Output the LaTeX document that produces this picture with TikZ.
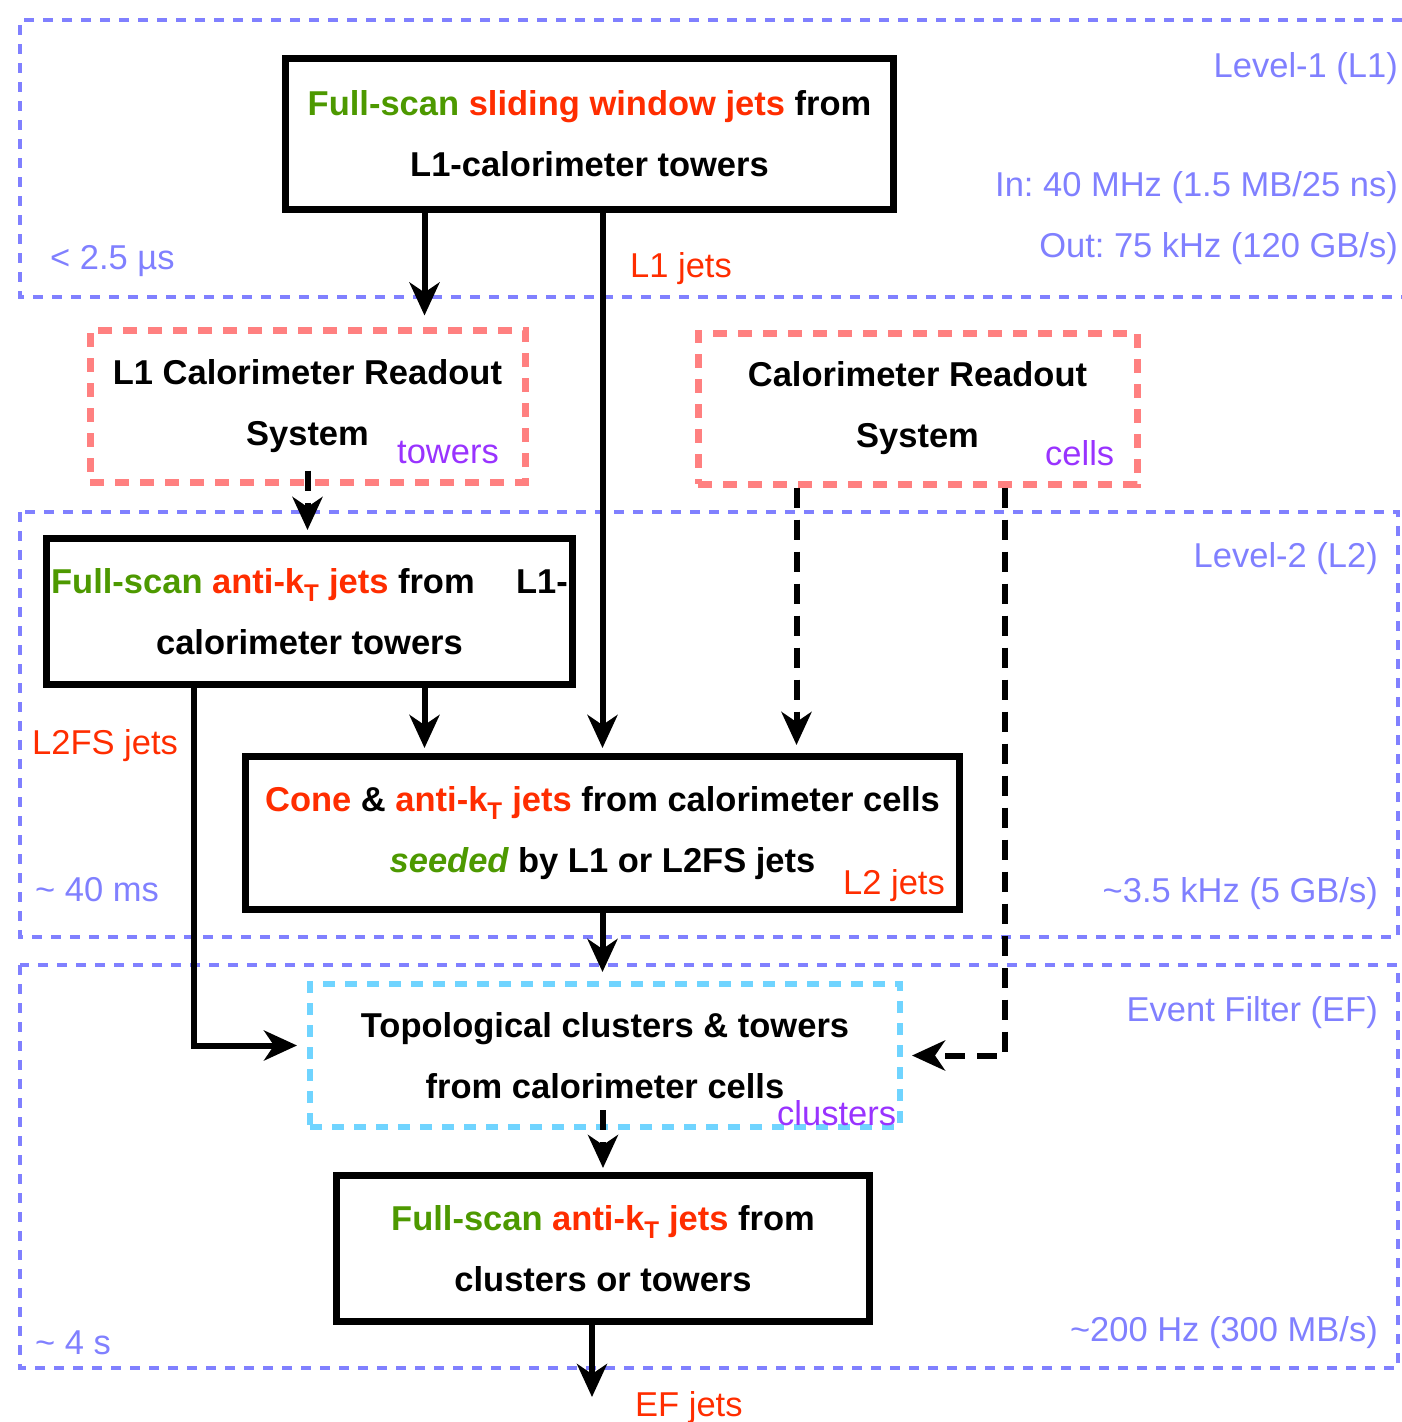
\documentclass[tikz,border=0pt]{standalone}
\usepackage{fontspec}
\setmainfont{Liberation Sans}
\usetikzlibrary{arrows.meta}
\definecolor{lvlblue}{RGB}{128,128,255}
\definecolor{rosa}{RGB}{255,128,128}
\definecolor{skyb}{RGB}{112,212,255}
\definecolor{grn}{RGB}{77,153,0}
\definecolor{rd}{RGB}{255,45,0}
\definecolor{purp}{RGB}{153,51,255}
\newcommand{\fs}[1]{\textcolor{grn}{#1}}
\newcommand{\jt}[1]{\textcolor{rd}{#1}}
\newcommand{\akt}{anti-k\textsubscript{T}}
\frenchspacing

\begin{document}
\begin{tikzpicture}
	[x=1pt, y=-1pt, >={Stealth[length=33pt, width=30pt, inset=10pt]},
	level/.style = {draw=lvlblue, line width=4.5pt, dash pattern=on 10pt off 9pt},
	main/.style = {draw, line width=7pt, align=center, font=\bfseries\fontsize{34.5}{61}\selectfont},
	readout/.style = {main, draw=rosa, line width=7pt, dash pattern=on 14pt off 11pt},
	lbl/.style = {inner sep=0pt, yshift=-3pt, font=\fontsize{34.5}{41}\selectfont, text=lvlblue},
	tag/.style = {lbl, text=rd},
	src/.style = {lbl, text=purp},
	flow/.style = {->, line width=6pt},
	fetch/.style = {flow, dash pattern=on 20pt off 12pt}]
	\useasboundingbox (0,0) rectangle (1402,1422);
	\draw[level] (1402,20) -| (20,297) -- (1402,297);
	\draw[level] (20,512) rectangle (1398,937);
	\draw[level] (20,965) rectangle (1398,1368);
	\node[main, minimum width=608, minimum height=151] (l1box) at (589.5,134) {\fs{Full-scan} \jt{sliding window jets} from\\L1-calorimeter towers};
	\node[readout, minimum width=435, minimum height=152] (l1ro) at (307.5,406) {L1 Calorimeter Readout\\System};
	\node[readout, minimum width=439, minimum height=151] (calro) at (917.5,408.5) {Calorimeter Readout\\System};
	\node[main, minimum width=526, minimum height=146] (l2fs) at (309.5,611.5) {\fs{Full-scan} \jt{\akt{} jets} from\hspace{1.2em}L1-\\calorimeter towers};
	\node[main, minimum width=714, minimum height=153] (l2box) at (602.5,833) {\jt{Cone} \& \jt{\akt{} jets} from calorimeter cells\\\textit{\fs{seeded}} by L1 or L2FS jets};
	\node[readout, draw=skyb, line width=6pt, dash pattern=on 12pt off 10pt, minimum width=590, minimum height=143] (topo) at (605,1055.5) {Topological clusters \& towers\\from calorimeter cells};
	\node[main, minimum width=533, minimum height=146] (efbox) at (603,1248.5) {\fs{Full-scan} \jt{\akt{} jets} from\\clusters or towers};
	\node[lbl, anchor=east] (lv1) at (1398,66) {Level-1 (L1)};
	\node[lbl, anchor=east] (rin) at (1398,185) {In: 40 MHz (1.5 MB/25 ns)};
	\node[lbl, anchor=east] (rout) at (1398,246) {Out: 75 kHz (120 GB/s)};
	\node[lbl, anchor=west] (t1) at (50,258) {< 2.5 µs};
	\node[tag, anchor=west] (l1jets) at (630,266) {L1 jets};
	\node[lbl, anchor=east] (lv2) at (1378,556) {Level-2 (L2)};
	\node[tag, anchor=west] (l2fsjets) at (32,743) {L2FS jets};
	\node[lbl, anchor=west] (t2) at (35,887) {\textasciitilde{} 40 ms};
	\node[lbl, anchor=east] (r2) at (1378,891) {\textasciitilde3.5 kHz (5 GB/s)};
	\node[tag, anchor=west] (l2jets) at (843,883) {L2 jets};
	\node[lbl, anchor=east] (lvef) at (1378,1010) {Event Filter (EF)};
	\node[lbl, anchor=west] (tef) at (35,1340) {\textasciitilde{} 4 s};
	\node[lbl, anchor=east] (ref) at (1378,1330) {\textasciitilde200 Hz (300 MB/s)};
	\node[tag, anchor=west] (efjets) at (635,1405) {EF jets};
	\node[src, anchor=west] (towers) at (397,450) {towers};
	\node[src, anchor=west] (cells) at (1045,450) {cells};
	\node[src, anchor=west] (clusters) at (777,1110) {clusters};
	\coordinate (efout) at (592,1397);
	\draw[flow, shorten >=11pt] ([xshift=-165pt]l1box.south) -- ([xshift=-165pt]l1box.south |- l1ro.north);
	\draw[flow, shorten >=5pt] (l2box.north |- l1box.south) -- (l2box.north);
	\draw[fetch, shorten >=5pt] ([yshift=15pt]l1ro.south) -- (l1ro.south |- l2fs.north);
	\draw[fetch, shorten >=8pt] ([xshift=-121pt]calro.south) -- ([xshift=-121pt]calro.south |- l2box.north);
	\draw[fetch, shorten >=9pt] ([xshift=87pt]calro.south) |- (topo.east);
	\draw[flow, shorten >=5pt] ([xshift=115pt]l2fs.south) -- ([xshift=115pt]l2fs.south |- l2box.north);
	\draw[flow, shorten >=10pt] ([xshift=-116pt]l2fs.south) |- ([yshift=10pt]topo.west);
	\draw[flow, shorten >=9pt] (l2box.south) -- (l2box.south |- topo.north);
	\draw[fetch, shorten >=4pt] ([yshift=20pt]efbox.north |- topo.south) -- (efbox.north);
	\draw[flow] ([xshift=-11pt]efbox.south) -- (efout);
\end{tikzpicture}
\end{document}
